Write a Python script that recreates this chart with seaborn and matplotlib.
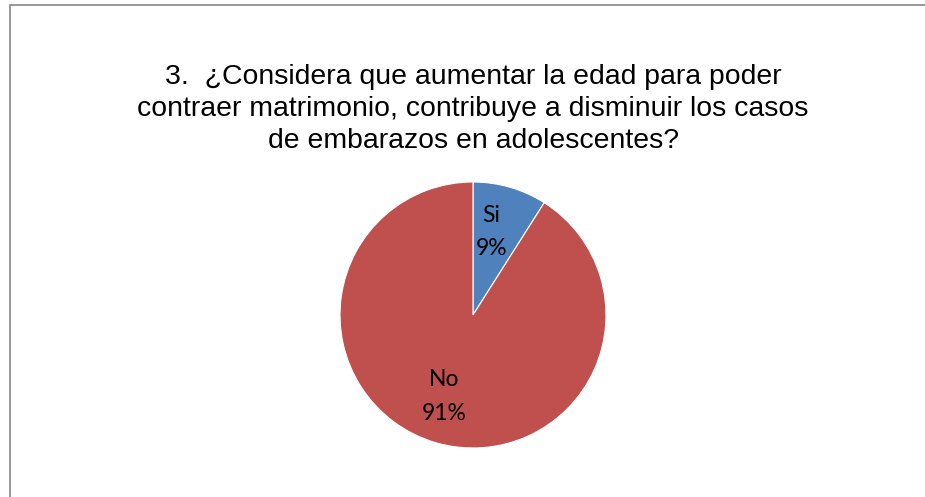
import matplotlib
matplotlib.use('Agg')
import matplotlib.pyplot as plt
from matplotlib.patches import Rectangle
import seaborn as sns

# survey answers
answers = ['Si', 'No']
counts = [9, 91]
colors = ['#4F81BD', '#C0504D']

title = ('3.  ¿Considera que aumentar la edad para poder\n'
         'contraer matrimonio, contribuye a disminuir los casos\n'
         'de embarazos en adolescentes?')

sns.set_theme(style='white')
plt.rcParams['font.family'] = ['Liberation Sans', 'DejaVu Sans']

fig = plt.figure(figsize=(9.25, 4.97), dpi=100)
fig.patch.set_facecolor('white')

# chart frame, cut at right and bottom like the reference
fig.patches.append(Rectangle((9.5 / 925, -0.5), 2.0, 0.5 + (497 - 4.5) / 497,
                             transform=fig.transFigure, fill=False,
                             edgecolor='#868686', linewidth=1.2))

cx, cy, r = 473, 497 - 315, 133
ax = fig.add_axes([(cx - r) / 925, (cy - r) / 497, 2 * r / 925, 2 * r / 497])

total = sum(counts)
labels = [f'{a}\n{round(c / total * 100)}%' for a, c in zip(answers, counts)]

wedges, texts = ax.pie(counts, colors=colors, startangle=90, counterclock=False,
                       labels=labels, labeldistance=0.64,
                       wedgeprops=dict(edgecolor='white', linewidth=0.8),
                       textprops=dict(fontsize=16.5, family=['Lato', 'DejaVu Sans'],
                                      color='black', linespacing=1.75))
for t in texts:
    t.set_ha('center')
    t.set_va('center')
# nudge labels a little, as Excel places them
x0, y0 = texts[0].get_position()
texts[0].set_position((x0 - 0.04, y0 + 0.01))
x1, y1 = texts[1].get_position()
texts[1].set_position((x1 - 0.035, y1))
ax.set_aspect('equal')
ax.set_xlim(-1, 1)
ax.set_ylim(-1, 1)
ax.axis('off')

fig.text(473 / 925, 1 - 109 / 497, title, ha='center', va='center',
         fontsize=20.4, linespacing=1.3, color='black')

fig.savefig('out.png', dpi=100, facecolor='white')
